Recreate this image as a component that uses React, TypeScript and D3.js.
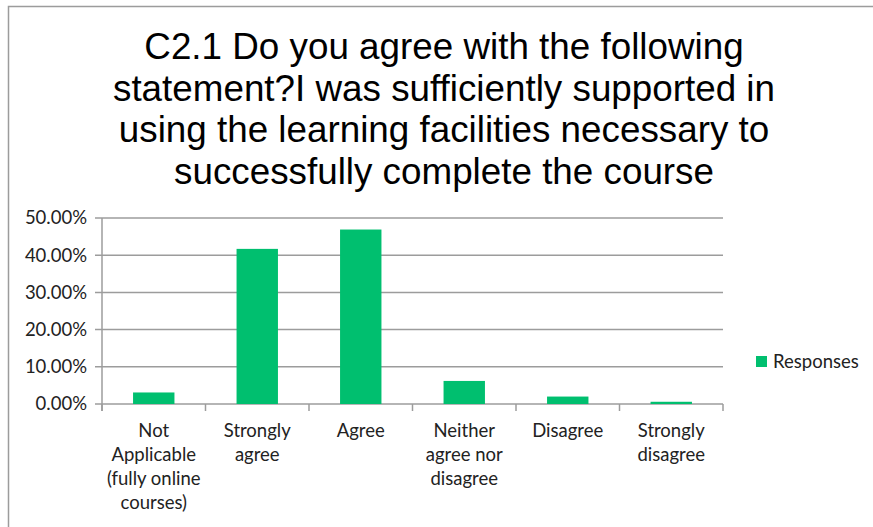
import * as d3 from "d3";

const categories = [
  "Not Applicable (fully online courses)",
  "Strongly agree",
  "Agree",
  "Neither agree nor disagree",
  "Disagree",
  "Strongly disagree",
];
const categoryLines = [
  ["Not", "Applicable", "(fully online", "courses)"],
  ["Strongly", "agree"],
  ["Agree"],
  ["Neither", "agree nor", "disagree"],
  ["Disagree"],
  ["Strongly", "disagree"],
];
const responses = [0.031, 0.417, 0.469, 0.062, 0.02, 0.006];
const yTicks = [0, 0.1, 0.2, 0.3, 0.4, 0.5];
const titleLines = [
  "C2.1 Do you agree with the following",
  "statement?I was sufficiently supported in",
  "using the learning facilities necessary to",
  "successfully complete the course",
];
const seriesName = "Responses";

const W = 873;
const H = 527;
const GREEN = "#00BF6F";
const GRID = "#9C9C9C";
const labelFont = "Lato, 'Open Sans', sans-serif";

export default function App() {
  const margin = { top: 218, left: 102, right: 150, bottom: 123 };
  const plotW = W - margin.left - margin.right;
  const plotH = H - margin.top - margin.bottom;

  const x = d3
    .scaleBand<string>()
    .domain(categories)
    .range([0, plotW])
    .paddingInner(0.6)
    .paddingOuter(0.3);
  const y = d3.scaleLinear().domain([0, 0.5]).range([plotH, 0]);
  const fmt = d3.format(".2%");
  const step = x.step();

  return (
    <div style={{ position: "absolute", left: 0, top: 0 }}>
      <svg width={W} height={H} style={{ display: "block", background: "#fff" }}>
        {/* chart frame */}
        <path d={`M8.5,${H + 5} V6.5 H${W + 5}`} fill="none" stroke={GRID} strokeWidth={1.5} />

        <g fontFamily="'Liberation Sans', Arial, sans-serif" fontSize={36.8} fill="#000" textAnchor="middle">
          {titleLines.map((t, i) => (
            <text key={i} x={444} y={59 + i * 41.5}>
              {t}
            </text>
          ))}
        </g>

        <g transform={`translate(${margin.left},${margin.top})`}>
          {yTicks.map((t) => (
            <g key={t}>
              <line x1={-7} x2={plotW} y1={y(t)} y2={y(t)} stroke={GRID} strokeWidth={1.5} />
              <text
                x={-15}
                y={y(t)}
                dy="0.35em"
                textAnchor="end"
                fontFamily={labelFont}
                fontSize={18.5}
                fill="#222"
              >
                {fmt(t)}
              </text>
            </g>
          ))}
          <line x1={0} x2={0} y1={0} y2={plotH + 7} stroke={GRID} strokeWidth={1.5} />
          {d3.range(categories.length + 1).map((i) => (
            <line
              key={i}
              x1={i * step}
              x2={i * step}
              y1={plotH}
              y2={plotH + 7}
              stroke={GRID}
              strokeWidth={1.5}
            />
          ))}

          {categories.map((c, i) => (
            <rect
              key={c}
              x={x(c)}
              y={y(responses[i])}
              width={x.bandwidth()}
              height={plotH - y(responses[i])}
              fill={GREEN}
            />
          ))}

          {categories.map((c, i) => (
            <text
              key={c}
              x={(x(c) ?? 0) + x.bandwidth() / 2}
              y={plotH + 33}
              textAnchor="middle"
              fontFamily={labelFont}
              fontSize={18.5}
              fill="#222"
            >
              {categoryLines[i].map((l, j) => (
                <tspan key={j} x={(x(c) ?? 0) + x.bandwidth() / 2} dy={j === 0 ? 0 : 24}>
                  {l}
                </tspan>
              ))}
            </text>
          ))}
        </g>

        <g transform="translate(756,356)">
          <rect width={11} height={11} fill={GREEN} />
          <text x={17} y={5.5} dy="0.35em" fontFamily={labelFont} fontSize={18.5} fill="#222">
            {seriesName}
          </text>
        </g>
      </svg>
    </div>
  );
}
